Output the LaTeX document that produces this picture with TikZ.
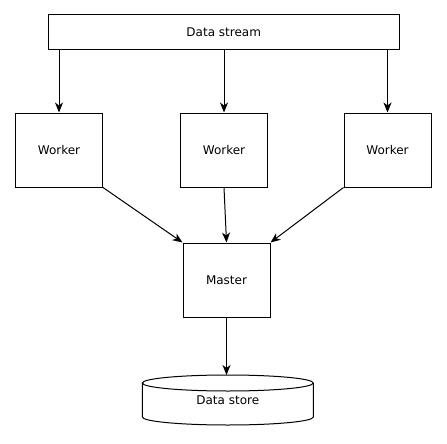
\documentclass[tikz,border=0pt]{standalone}
\usepackage{fontspec}
\setmainfont{DejaVu Sans}
\usetikzlibrary{arrows.meta}
\begin{document}
\begin{tikzpicture}[x=1pt,y=-1pt,
  box/.style={draw,line width=1pt,inner sep=0pt,font=\fontsize{12}{14}\selectfont},
  conn/.style={line width=1pt,-{Stealth[length=10pt,width=8pt,inset=3pt]}}]
\useasboundingbox (0,0) rectangle (447,444);
\node[box,minimum width=351.5pt,minimum height=35pt] (ds) at (223.75,32.5) {Data stream};
\node[box,minimum width=87pt,minimum height=74pt] (w1) at (59,150) {Worker};
\node[box,minimum width=87pt,minimum height=74pt] (w2) at (224,150) {Worker};
\node[box,minimum width=87pt,minimum height=74pt] (w3) at (387.5,150) {Worker};
\node[box,minimum width=87pt,minimum height=74pt] (m) at (226.5,280) {Master};
% cylinder
\draw[line width=1pt] (142.3,383) -- (142.3,417) arc[start angle=180,end angle=360,x radius=85.5,y radius=-8] -- (313.3,383);
\draw[line width=1pt] (227.8,383) ellipse[x radius=85.5,y radius=8];
\node[font=\fontsize{12}{14}\selectfont,inner sep=0pt] (st) at (227.8,400) {Data store};
\coordinate (sttop) at (227.8,375);
\draw[conn] (w1 |- ds.south) -- (w1.north);
\draw[conn] (w2 |- ds.south) -- (w2.north);
\draw[conn] (w3 |- ds.south) -- (w3.north);
\draw[conn] (w1.south east) -- (m.north west);
\draw[conn] (w2.south) -- (m.north);
\draw[conn] (w3.south west) -- (m.north east);
\draw[conn] (m.south) -- (m.south |- sttop);
\end{tikzpicture}
\end{document}
